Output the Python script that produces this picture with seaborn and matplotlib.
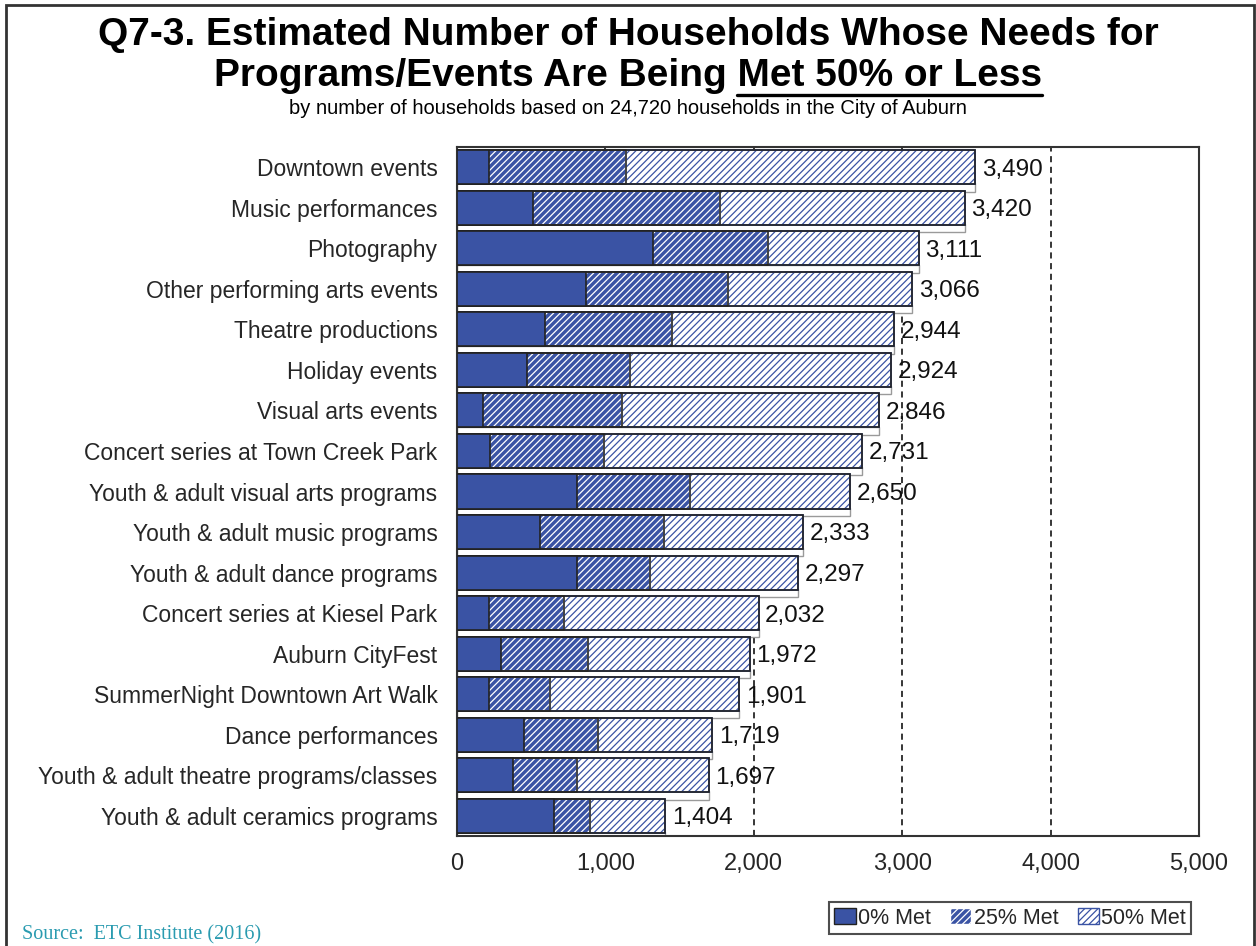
import matplotlib
matplotlib.use("Agg")
import matplotlib.pyplot as plt
import matplotlib.patches as mpatches
import numpy as np
import pandas as pd
import seaborn as sns

categories = [
    "Downtown events", "Music performances", "Photography",
    "Other performing arts events", "Theatre productions", "Holiday events",
    "Visual arts events", "Concert series at Town Creek Park",
    "Youth & adult visual arts programs", "Youth & adult music programs",
    "Youth & adult dance programs", "Concert series at Kiesel Park",
    "Auburn CityFest", "SummerNight Downtown Art Walk", "Dance performances",
    "Youth & adult theatre programs/classes", "Youth & adult ceramics programs",
]
met_0 = [214, 511, 1319, 869, 594, 475, 178, 223, 808, 561, 808, 214, 295, 214, 450, 378, 655]
met_25 = [927, 1263, 777, 954, 858, 693, 932, 765, 763, 833, 493, 504, 585, 416, 502, 432, 239]
totals = [3490, 3420, 3111, 3066, 2944, 2924, 2846, 2731, 2650, 2333, 2297, 2032, 1972, 1901, 1719, 1697, 1404]
series_names = ["0% Met", "25% Met", "50% Met"]

df = pd.DataFrame({"category": categories, "m0": met_0, "m25": met_25, "total": totals})
df["cum25"] = df["m0"] + df["m25"]

BLUE = "#3A53A4"
sns.set_theme(style="white")
plt.rcParams["font.family"] = ["Liberation Sans", "DejaVu Sans"]
plt.rcParams["hatch.linewidth"] = 0.9

fig = plt.figure(figsize=(12.56, 9.46), dpi=100)
ax = fig.add_axes([457 / 1256, 1 - 836 / 946, (1199 - 457) / 1256, (836 - 147) / 946])

# dashed gridlines behind bars
for g in [1000, 2000, 3000, 4000]:
    ax.axvline(g, color="black", linestyle=(0, (4, 3)), linewidth=1.1, zorder=0)

# depth strips under each bar (hide the gridlines in the gaps)
for i, v in enumerate(totals):
    ax.add_patch(mpatches.Rectangle((0, i + 0.40), v, 0.20, facecolor="white",
                                    edgecolor="#9a9a9a", linewidth=1.0, zorder=1))

layers = [("total", "white", BLUE), ("cum25", BLUE, "white"), ("m0", BLUE, None)]
for col, face, hatchcol in layers:
    n_before = len(ax.patches)
    sns.barplot(data=df, x=col, y="category", orient="h", color=face,
                saturation=1, width=0.84, ax=ax, zorder=2)
    for p in list(ax.patches[n_before:]):
        p.set_facecolor(face)
        p.set_linewidth(1.2)
        if hatchcol is not None:
            p.set_hatch("/////")
            p.set_edgecolor(hatchcol)
            x, y = p.get_xy()
            ax.add_patch(mpatches.Rectangle((x, y), p.get_width(), p.get_height(),
                                            fill=False, edgecolor="#222222", linewidth=1.2, zorder=2.5))
        else:
            p.set_edgecolor("#222222")
            p.set_zorder(2.6)
            continue
        p.set_zorder(2)

for i, v in enumerate(totals):
    ax.text(v + 45, i + 0.06, f"{v:,}", va="center", ha="left", fontsize=17.5,
            color="#111111", zorder=5)

ax.set_xlim(0, 5000)
ax.set_ylim(16.5, -0.5)
ax.set_xticks([0, 1000, 2000, 3000, 4000, 5000])
ax.set_xticklabels([f"{t:,}" for t in [0, 1000, 2000, 3000, 4000, 5000]], fontsize=17)
ax.tick_params(axis="y", labelsize=16.5, pad=14, length=0)
ax.tick_params(axis="x", pad=12, length=0)
ax.set_xlabel("")
ax.set_ylabel("")
for s in ax.spines.values():
    s.set_color("#333333")
    s.set_linewidth(1.5)
    s.set_visible(True)

# title
fig.text(0.5, 1 - 35 / 946, "Q7-3. Estimated Number of Households Whose Needs for",
         ha="center", va="center", fontsize=28, fontweight="bold", color="black")
line2 = "Programs/Events Are Being Met 50% or Less"
t2 = fig.text(0.5, 1 - 76 / 946, line2, ha="center", va="center",
              fontsize=28, fontweight="bold", color="black")
fig.text(0.5, 1 - 109 / 946,
         "by number of households based on 24,720 households in the City of Auburn",
         ha="center", va="center", fontsize=14.5, color="black")

renderer = fig.canvas.get_renderer()
bb_full = t2.get_window_extent(renderer)
tmp = fig.text(0, 0, "Met 50% or Less", fontsize=28, fontweight="bold")
w_part = tmp.get_window_extent(renderer).width
tmp.remove()
x1 = bb_full.x1 / 1256
x0 = (bb_full.x1 - w_part) / 1256
yline = (bb_full.y0 - 1) / 946
fig.add_artist(plt.Line2D([x0, x1], [yline, yline], color="black", linewidth=2.4))

# legend
handles = [
    mpatches.Patch(facecolor=BLUE, edgecolor="#222222", label=series_names[0]),
    mpatches.Patch(facecolor=BLUE, edgecolor="white", hatch="/////", label=series_names[1]),
    mpatches.Patch(facecolor="white", edgecolor=BLUE, hatch="/////", label=series_names[2]),
]
leg = fig.legend(handles=handles, loc="center", bbox_to_anchor=(1010 / 1256, 1 - 918 / 946),
                 ncol=3, fontsize=15.5, frameon=True, fancybox=False, handlelength=1.0,
                 handleheight=0.8, handletextpad=0.1, columnspacing=0.9, borderpad=0.25)
leg.get_frame().set_edgecolor("#222222")
leg.get_frame().set_linewidth(1.5)

fig.text(22 / 1256, 1 - 935 / 946, "Source:  ETC Institute (2016)", ha="left", va="center",
         fontsize=14.5, family="Liberation Serif", color="#2A9BB0")

# figure border
fig.add_artist(mpatches.Rectangle((6 / 1256, -0.01), 1248 / 1256, 1 - 5 / 946 + 0.01,
                                  fill=False, edgecolor="#333333", linewidth=2,
                                  transform=fig.transFigure))

fig.savefig("out.png", dpi=100)
